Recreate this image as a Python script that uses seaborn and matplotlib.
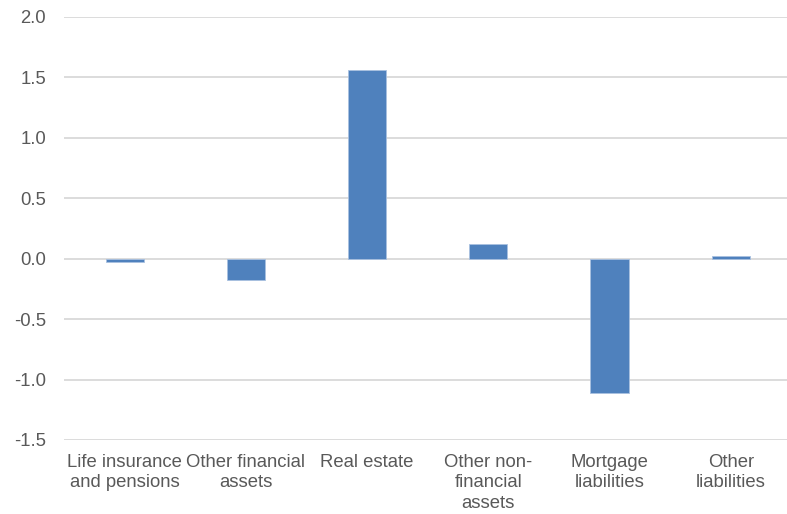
import matplotlib
matplotlib.use("Agg")
import matplotlib.pyplot as plt
import seaborn as sns
import pandas as pd
from matplotlib.ticker import FormatStrFormatter

categories = [
    "Life insurance\nand pensions",
    "Other financial\nassets",
    "Real estate",
    "Other non-\nfinancial\nassets",
    "Mortgage\nliabilities",
    "Other\nliabilities",
]
values = [-0.03, -0.18, 1.56, 0.12, -1.11, 0.02]
y_ticks = [-1.5, -1.0, -0.5, 0.0, 0.5, 1.0, 1.5, 2.0]

sns.set_theme(style="white")
plt.rcParams["font.family"] = ["Liberation Sans", "DejaVu Sans"]
plt.rcParams["axes.unicode_minus"] = False

df = pd.DataFrame({"category": categories, "value": values})

fig = plt.figure(figsize=(7.87, 5.14), dpi=100)
ax = fig.add_axes([0.0815, 0.144, 0.924, 0.823])

sns.barplot(data=df, x="category", y="value", color="#4f81bd",
            width=0.315, saturation=1, ax=ax, zorder=3,
            edgecolor="#a9c1e0", linewidth=0.6)

ax.set_ylim(-1.5, 2.0)
ax.set_yticks(y_ticks)
ax.yaxis.set_major_formatter(FormatStrFormatter("%.1f"))
ax.grid(axis="y", color="#d9d9d9", linewidth=1.3, zorder=0)
ax.set_axisbelow(True)
for s in ax.spines.values():
    s.set_visible(False)
ax.set_xlabel("")
ax.set_ylabel("")
ax.tick_params(axis="both", length=0, labelsize=13.3, colors="#595959")
ax.tick_params(axis="y", pad=13)
ax.tick_params(axis="x", pad=10)
for lbl in ax.get_xticklabels():
    lbl.set_linespacing(1.26)
ax.set_xlim(-0.5, len(categories) - 0.5)

fig.savefig("out.png", dpi=100)
